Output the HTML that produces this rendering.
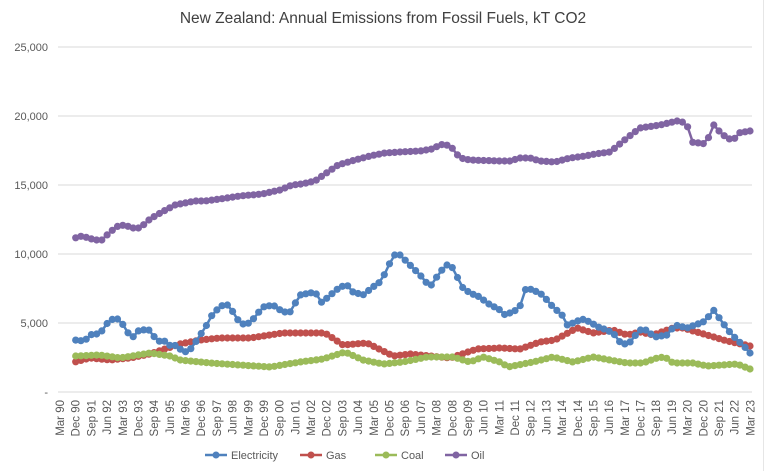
<!DOCTYPE html>
<html><head><meta charset="utf-8"><style>
body{margin:0;background:#fff;}
svg{display:block;font-family:"Liberation Sans",sans-serif;}
</style></head><body>
<svg id="c" width="767" height="471" viewBox="0 0 767 471" xmlns="http://www.w3.org/2000/svg">
<rect x="0" y="0" width="767" height="471" fill="#fff"/>
<line x1="763.5" y1="0" x2="763.5" y2="471" stroke="#e6e6e6" stroke-width="1"/>
<text x="383" y="23" text-anchor="middle" font-size="15.5" fill="#404040">New Zealand: Annual Emissions from Fossil Fuels, kT CO2</text>
</svg>
<script>
var s=document.getElementById('c'),NS='http://www.w3.org/2000/svg';
function el(t,a,txt){var e=document.createElementNS(NS,t);for(var k in a)e.setAttribute(k,a[k]);if(txt)e.textContent=txt;s.appendChild(e);return e;}
var ys=[[47,'25,000'],[116,'20,000'],[185,'15,000'],[254,'10,000'],[323,'5,000'],[392,'-']];
ys.forEach(function(v){el('line',{x1:58,x2:752,y1:v[0],y2:v[0],stroke:'#d9d9d9','stroke-width':1});
el('text',{x:48,y:v[0]+4,'text-anchor':'end','font-size':11,fill:'#595959'},v[1]);});
var mons=['Mar','Dec','Sep','Jun'];
for(var i=0;i<45;i++){var q=i*3,x=60+q*5.23;var m=mons[i%4];
var yy=(90+Math.floor(q/4))%100;var lbl=m+' '+(yy<10?'0'+yy:yy);
el('text',{x:0,y:0,'font-size':11.5,fill:'#595959','text-anchor':'end',transform:'translate('+(x+4)+',400) rotate(-90)'},lbl);}
function interp(pts,x){if(x<=pts[0][0])return pts[0][1];for(var i=1;i<pts.length;i++){if(x<=pts[i][0]){var a=pts[i-1],b=pts[i];return a[1]+(b[1]-a[1])*(x-a[0])/(b[0]-a[0]);}}return pts[pts.length-1][1];}
var series=[
['#8064a2',[[75,238],[82,236],[95,240],[102,240],[110,232],[118,226],[125,225],[132,228],[140,228],[150,219],[162,212],[175,205],[185,203],[195,201],[205,201],[220,199],[240,196],[262,194],[280,190],[292,185],[302,184],[315,181],[325,174],[338,165],[355,160],[370,156],[385,153],[400,152],[420,151],[432,149],[440,145],[445,144],[452,148],[460,158],[470,160],[500,161],[510,161],[520,158],[530,158],[540,161],[555,162],[570,158],[585,156],[595,154],[610,152],[627,138],[640,128],[660,125],[677,121],[687,123],[690,142],[707,144],[712,123],[718,130],[723,135],[733,141],[738,133],[750,131]]],
['#c0504d',[[75,362],[90,358],[110,360],[130,358],[150,354],[165,349],[180,344],[200,340],[220,338],[250,338],[283,333],[325,333],[343,345],[367,343],[393,356],[410,354],[450,358],[477,349],[500,348],[520,349],[540,342],[555,340],[577,328],[593,333],[613,330],[627,335],[640,332],[653,335],[673,328],[683,328],[707,335],[727,341],[750,346]]],
['#9bbb59',[[75,356],[100,355],[120,358],[150,353],[170,356],[180,360],[210,363],[240,365],[270,367],[300,362],[323,359],[345,352],[363,360],[383,364],[403,362],[427,357],[453,357],[470,362],[483,357],[500,362],[508,367],[533,362],[553,357],[573,362],[593,357],[610,360],[627,363],[643,363],[657,358],[665,357],[673,363],[693,363],[707,366],[737,364],[750,369]]],
['#4f81bd',[[75,340],[80,341],[87,339],[92,334],[98,334],[103,330],[108,322],[113,319],[118,319],[122,323],[127,332],[133,337],[138,331],[143,330],[148,329],[153,335],[158,342],[163,339],[168,346],[173,344],[180,349],[185,352],[192,348],[198,338],[203,331],[208,323],[213,313],[218,309],[223,305],[228,305],[233,312],[238,320],[243,324],[250,323],[263,307],[273,305],[283,312],[290,312],[300,295],[315,292],[322,303],[328,297],[340,287],[347,285],[353,292],[363,295],[373,287],[380,282],[387,270],[393,255],[400,255],[410,265],[420,275],[430,287],[440,272],[447,265],[453,268],[462,287],[470,293],[480,297],[487,303],[500,310],[503,315],[513,312],[520,307],[523,290],[530,289],[540,293],[547,300],[553,307],[562,315],[567,325],[573,323],[582,319],[590,322],[598,327],[607,330],[615,335],[622,345],[630,342],[638,332],[643,328],[655,337],[667,335],[675,325],[687,328],[695,325],[703,322],[708,318],[712,308],[717,315],[728,330],[737,340],[743,345],[750,353]]]
];
series.forEach(function(sr){var d='',pts=[];for(var q=3;q<=132;q++){var x=60+q*5.23;if(x>750)x=750;var y=interp(sr[1],x);pts.push([x,y]);d+=(q==3?'M':'L')+x.toFixed(1)+' '+y.toFixed(1);}
el('path',{d:d,fill:'none',stroke:sr[0],'stroke-width':2.5});
pts.forEach(function(p){el('circle',{cx:p[0].toFixed(1),cy:p[1].toFixed(1),r:3.6,fill:sr[0]});});});
var leg=[[205,'#4f81bd','Electricity'],[300,'#c0504d','Gas'],[375,'#9bbb59','Coal'],[445,'#8064a2','Oil']];
leg.forEach(function(l){el('line',{x1:l[0],x2:l[0]+22,y1:455,y2:455,stroke:l[1],'stroke-width':2.5});
el('circle',{cx:l[0]+11,cy:455,r:3.5,fill:l[1]});
el('text',{x:l[0]+26,y:459,'font-size':11,fill:'#595959'},l[2]);});
</script>
</body></html>
